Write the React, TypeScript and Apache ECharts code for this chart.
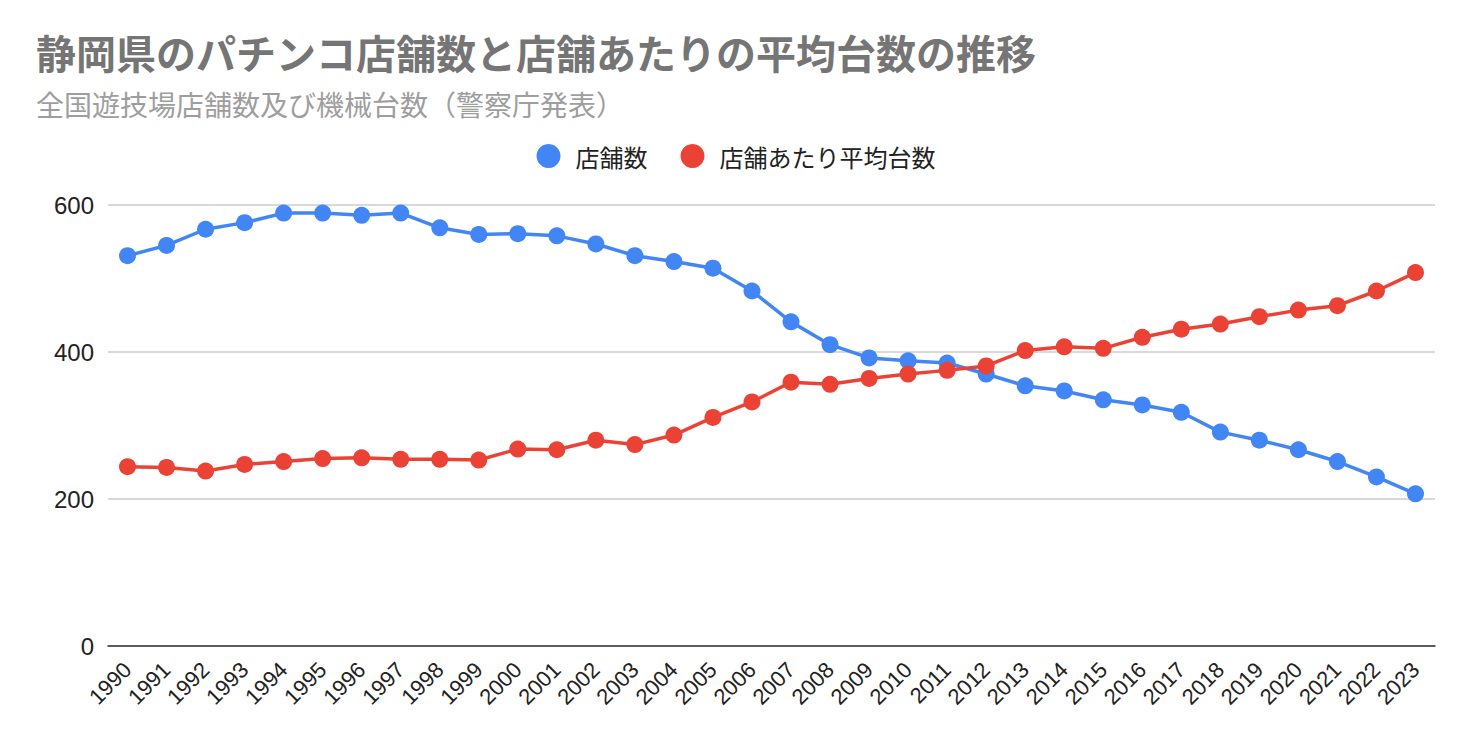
import React, { useEffect, useRef } from "react";
import * as echarts from "echarts";

const years: string[] = [
  "1990","1991","1992","1993","1994","1995","1996","1997","1998","1999",
  "2000","2001","2002","2003","2004","2005","2006","2007","2008","2009",
  "2010","2011","2012","2013","2014","2015","2016","2017","2018","2019",
  "2020","2021","2022","2023",
];

const storeCounts: number[] = [
  531, 545, 567, 576, 589, 589, 586, 589, 569, 560,
  561, 558, 547, 531, 523, 514, 483, 441, 410, 392,
  388, 385, 370, 354, 347, 335, 328, 318, 291, 280,
  267, 251, 230, 207,
];

const avgMachines: number[] = [
  244, 243, 238, 247, 251, 255, 256, 254, 254, 253,
  268, 267, 280, 274, 287, 311, 332, 359, 356, 364,
  370, 375, 381, 402, 407, 405, 420, 431, 438, 448,
  457, 463, 483, 508,
];

const yTicks = { min: 0, max: 600, interval: 200 };

const titleText = "静岡県のパチンコ店舗数と店舗あたりの平均台数の推移";
const subtitleText = "全国遊技場店舗数及び機械台数（警察庁発表）";
const seriesNames = ["店舗数", "店舗あたり平均台数"];

const CJK = '"Noto Sans CJK JP", "Noto Sans", sans-serif';
const LATIN = '"Liberation Sans", Arial, sans-serif';

export default function App() {
  const ref = useRef<HTMLDivElement>(null);
  useEffect(() => {
    if (!ref.current) return;
    const chart = echarts.init(ref.current, undefined, { renderer: "svg" });
    chart.setOption({
      animation: false,
      backgroundColor: "#ffffff",
      title: [
        {
          text: titleText,
          left: 23,
          top: 19,
          textStyle: {
            fontFamily: CJK,
            fontSize: 40,
            fontWeight: "bold",
            color: "#757575",
            lineHeight: 40,
          },
        },
        {
          text: subtitleText,
          left: 23,
          top: 77,
          textStyle: {
            fontFamily: CJK,
            fontSize: 28,
            fontWeight: "normal",
            color: "#9e9e9e",
            lineHeight: 28,
          },
        },
      ],
      legend: {
        top: 131,
        left: "center",
        icon: "circle",
        itemWidth: 24,
        itemHeight: 24,
        itemGap: 33,
        data: seriesNames,
        textStyle: {
          fontFamily: CJK,
          fontSize: 24,
          color: "#222222",
          padding: [0, 0, 0, 10],
        },
      },
      grid: {
        left: 100,
        right: 29,
        top: 197,
        bottom: 88,
        containLabel: false,
      },
      xAxis: {
        type: "category",
        data: years,
        boundaryGap: true,
        axisLine: { show: true, lineStyle: { color: "#333333", width: 1.5 } },
        axisTick: { show: false },
        axisLabel: {
          rotate: 45,
          interval: 0,
          margin: 20,
          fontFamily: LATIN,
          fontSize: 22,
          color: "#222222",
        },
        splitLine: { show: false },
      },
      yAxis: {
        type: "value",
        min: yTicks.min,
        max: yTicks.max,
        interval: yTicks.interval,
        axisLine: { show: false },
        axisTick: { show: false },
        axisLabel: {
          margin: 14,
          fontFamily: LATIN,
          fontSize: 24,
          color: "#222222",
        },
        splitLine: { show: true, lineStyle: { color: "#cccccc", width: 1.5 } },
      },
      series: [
        {
          name: seriesNames[0],
          type: "line",
          data: storeCounts,
          symbol: "circle",
          symbolSize: 17,
          itemStyle: { color: "#4285F4" },
          lineStyle: { color: "#4285F4", width: 3.5 },
        },
        {
          name: seriesNames[1],
          type: "line",
          data: avgMachines,
          symbol: "circle",
          symbolSize: 17,
          itemStyle: { color: "#EA4335" },
          lineStyle: { color: "#EA4335", width: 3.5 },
        },
      ],
    });
    return () => chart.dispose();
  }, []);
  return <div ref={ref} style={{ width: 1456, height: 726 }} />;
}
